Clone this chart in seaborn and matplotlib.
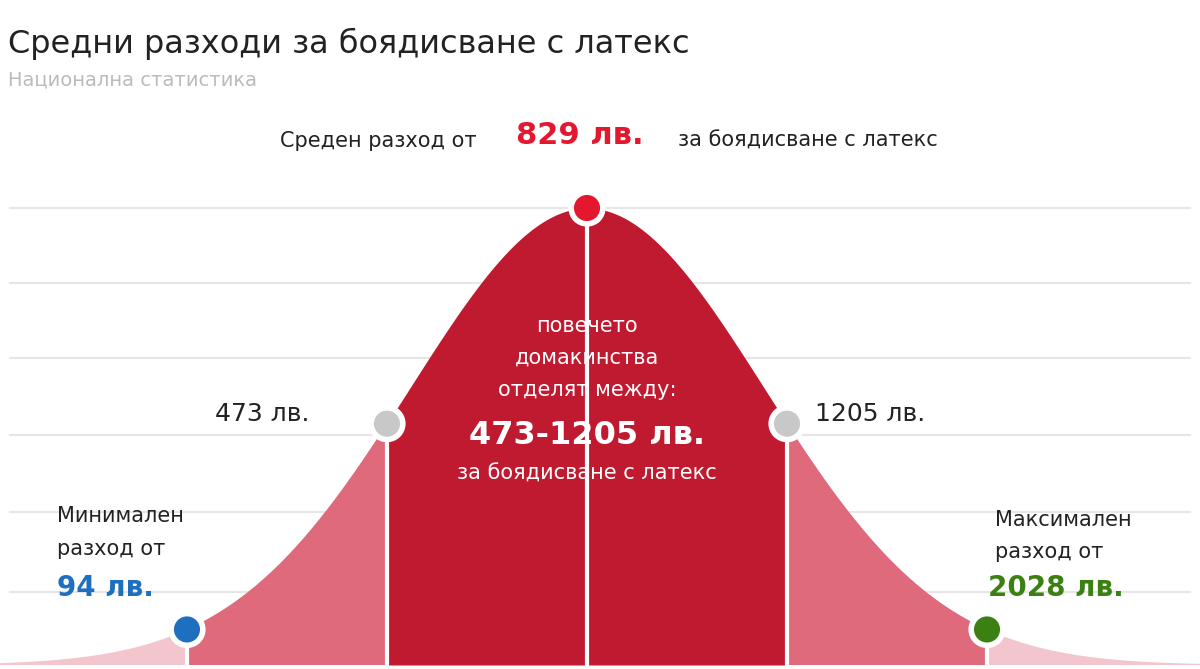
import numpy as np
import pandas as pd
import seaborn as sns
from matplotlib import pyplot as plt

# data
values = [94, 473, 829, 1205, 2028]
steps = [-2, -1, 0, 1, 2]          # position along the bell, in "steps"
point_colors = ['#1f6fc0', '#c8c8c8', '#e3172e', '#c8c8c8', '#3c7f12']
step_sigma = 1.13                  # one step ~ 1.13 standard deviations

sns.set_theme(style="white")
plt.rcParams['font.family'] = ['DejaVu Sans']

fig = plt.figure(figsize=(12, 6.69), dpi=100)
ax = fig.add_axes([0, 0, 1, 1])
ax.set_xlim(-587 / 177, (1200 - 587) / 177)
ax.set_ylim(-4 / 457, 665 / 457)
ax.axis('off')

xs = np.linspace(-3.4, 3.5, 800)
curve = pd.DataFrame({'x': xs, 'd': np.exp(-xs ** 2 / 2)})

# grid lines
for gy in [208, 283, 358, 435, 512, 592]:
    ax.axhline((665 - gy) / 457, xmin=10 / 1200, xmax=1190 / 1200, color='#e6e6e6', lw=1.5, zorder=0)

pos = [s * step_sigma for s in steps]
fills = [
    (xs < pos[1]) | (xs > pos[3]),
    ((xs >= pos[0]) & (xs <= pos[1])) | ((xs >= pos[3]) & (xs <= pos[4])),
    (xs >= pos[1]) & (xs <= pos[3]),
]
ax.fill_between(xs, 0, curve['d'], where=fills[0], color='#f3c6ce', lw=0, zorder=1)
ax.fill_between(xs, 0, curve['d'], where=fills[1], color='#de6a7c', lw=0, zorder=2)
ax.fill_between(xs, 0, curve['d'], where=fills[2], color='#c01a31', lw=0, zorder=3)
sns.lineplot(x='x', y='d', data=curve, ax=ax, color='white', lw=0, legend=False)

py = [np.exp(-p ** 2 / 2) for p in pos]
for p, h in zip(pos, py):
    ax.plot([p, p], [0, h], color='white', lw=3, zorder=4)
sns.scatterplot(x=pos, y=py, hue=[str(v) for v in values], palette=point_colors,
                s=520, edgecolor='white', linewidth=4, ax=ax, legend=False, zorder=5)


def t(x, y, s, **kw):
    fig.text(x / 1200, 1 - y / 669, s, va='center', **kw)


t(8, 44, 'Средни разходи за боядисване с латекс', fontsize=23, color='#222222')
t(8, 80, 'Национална статистика', fontsize=14, color='#bbbbbb')
t(280, 141, 'Среден разход от', fontsize=15, color='#222222')
t(516, 136, f'{values[2]} лв.', fontsize=22, color='#e3172e', fontweight='bold')
t(678, 141, 'за боядисване с латекс', fontsize=15, color='#222222')
for yy, s in [(326, 'повечето'), (358, 'домакинства'), (390, 'отделят между:')]:
    t(587, yy, s, fontsize=15, color='white', ha='center')
t(587, 436, f'{values[1]}-{values[3]} лв.', fontsize=23, color='white', ha='center', fontweight='bold')
t(587, 474, 'за боядисване с латекс', fontsize=15, color='white', ha='center')
t(215, 414, f'{values[1]} лв.', fontsize=18, color='#222222')
t(815, 414, f'{values[3]} лв.', fontsize=18, color='#222222')
t(57, 516, 'Минимален', fontsize=15, color='#222222')
t(57, 549, 'разход от', fontsize=15, color='#222222')
t(57, 588, f'{values[0]} лв.', fontsize=20, color='#1f6fc0', fontweight='bold')
t(995, 520, 'Максимален', fontsize=15, color='#222222')
t(995, 552, 'разход от', fontsize=15, color='#222222')
t(988, 588, f'{values[4]} лв.', fontsize=20, color='#3c7f12', fontweight='bold')

fig.savefig('out.png', dpi=100)
